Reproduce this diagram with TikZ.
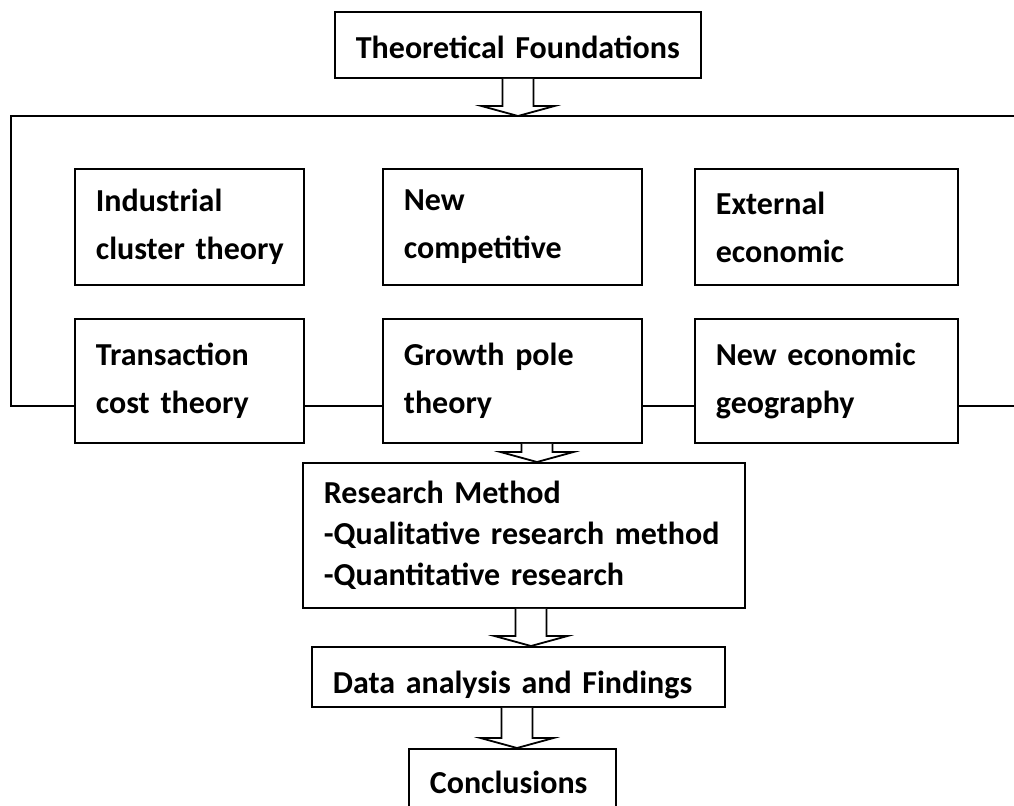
\documentclass[tikz,border=0pt]{standalone}
\usepackage{fontspec}
\setmainfont{Carlito}
\usetikzlibrary{calc}

% hollow block arrow: #1 start (box bottom), #2 tip level, #3 shaft x
\newcommand\hollowarrow[3]{%
  \draw[flow] let \p1=(#1), \p2=(#2), \p3=(#3,0) in
    (\x3-7.75pt,\y1) -- (\x3-7.75pt,\y2+5pt) -- (\x3-18.25pt,\y2+5pt)
    -- (\x3,\y2) -- (\x3+18.25pt,\y2+5pt) -- (\x3+7.75pt,\y2+5pt)
    -- (\x3+7.75pt,\y1);}

\begin{document}
\begin{tikzpicture}[
  x=0.5pt, y=-0.5pt,
  box/.style={
    draw, line width=0.9pt, anchor=north west,
    inner xsep=10.5pt, inner ysep=0pt, align=left,
    font=\fontsize{16pt}{24pt}\selectfont\bfseries
  },
  flow/.style={line width=0.9pt, fill=white, line join=miter},
  frame/.style={line width=0.9pt}
]
\useasboundingbox (0,0) rectangle (1014,805);

% --- Top box ---
\node[box, text width=162pt, minimum height=33pt,
      text height=14pt, text depth=0pt] (tf) at (334,11)
  {Theoretical~Foundations};

% --- Theories ---
\foreach \n/\x/\w/\t in
  {ic/74/93.5/{Industrial\\\mbox{cluster theory}},
   nc/382/108.5/{New\\competitive},
   ee/694/110.5/{External\\economic}}
{
  \node[box, text width=\w pt, minimum height=58pt] (\n) at (\x,168) {\t};
}
\foreach \n/\x/\w/\t in
  {tc/74/93.5/{Transaction\\cost~theory},
   gp/382/108.5/{Growth~pole\\theory},
   ng/694/110.5/{New~economic\\geography}}
{
  \node[box, text width=\w pt, minimum height=62pt] (\n) at (\x,318) {\t};
}

% --- Method, analysis, conclusions ---
\node[box, text width=200pt, minimum height=72.5pt,
      font=\fontsize{16pt}{20.5pt}\selectfont\bfseries] (rm) at (302,462)
  {Research~Method\\-Qualitative~research~method\\-Quantitative~research};
\node[box, text width=185.5pt, minimum height=30pt,
      text height=17pt, text depth=0pt] (da) at (311,646)
  {Data~analysis~and~Findings};
\node[box, text width=82.5pt, minimum height=36pt,
      text height=9pt, text depth=0pt] (cc) at (408,748)
  {Conclusions};

% --- Frame round the theories ---
\coordinate (ft) at (11,116);
\coordinate (fe) at (1014,116);
\coordinate (lk) at (0,406);
\coordinate (le) at (1014,406);
\draw[frame] (fe) -- (ft) |- (tc.west |- lk);
\draw[frame] (tc.east |- lk) -- (gp.west |- lk);
\draw[frame] (gp.east |- lk) -- (ng.west |- lk);
\draw[frame] (ng.east |- lk) -- (le);

% --- Arrows ---
\hollowarrow{tf.south}{ft}{518}
\hollowarrow{gp.south}{rm.north}{537}
\hollowarrow{rm.south}{da.north}{531}
\hollowarrow{da.south}{cc.north}{517}

\end{tikzpicture}
\end{document}
